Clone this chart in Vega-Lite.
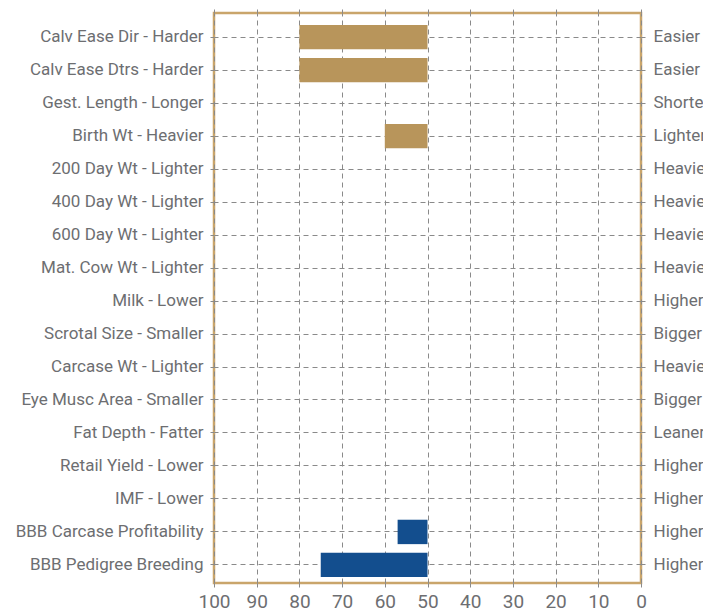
{
  "$schema": "https://vega.github.io/schema/vega-lite/v6.json",
  "autosize": "none",
  "padding": {"left": 214, "top": 13, "right": 62, "bottom": 28},
  "width": 427,
  "height": 570,
  "config": {
    "view": {"stroke": "#c9a56b", "strokeWidth": 2.5},
    "font": "Roboto",
    "axis": {
      "labelFont": "Roboto",
      "labelColor": "#6d6e71",
      "tickColor": "#8a8a8a",
      "gridColor": "#8a8a8a",
      "gridDash": [5, 4],
      "tickDash": [4, 4],
      "gridWidth": 1,
      "domain": false,
      "title": null
    }
  },
  "data": {
    "values": [
      {"trait": "Calv Ease Dir - Harder", "favour": "Easier", "value": 80, "group": "EBV"},
      {"trait": "Calv Ease Dtrs - Harder", "favour": "Easier", "value": 80, "group": "EBV"},
      {"trait": "Gest. Length - Longer", "favour": "Shorter", "value": null, "group": "EBV"},
      {"trait": "Birth Wt - Heavier", "favour": "Lighter", "value": 60, "group": "EBV"},
      {"trait": "200 Day Wt - Lighter", "favour": "Heavier", "value": null, "group": "EBV"},
      {"trait": "400 Day Wt - Lighter", "favour": "Heavier", "value": null, "group": "EBV"},
      {"trait": "600 Day Wt - Lighter", "favour": "Heavier", "value": null, "group": "EBV"},
      {"trait": "Mat. Cow Wt - Lighter", "favour": "Heavier", "value": null, "group": "EBV"},
      {"trait": "Milk - Lower", "favour": "Higher", "value": null, "group": "EBV"},
      {"trait": "Scrotal Size - Smaller", "favour": "Bigger", "value": null, "group": "EBV"},
      {"trait": "Carcase Wt - Lighter", "favour": "Heavier", "value": null, "group": "EBV"},
      {"trait": "Eye Musc Area - Smaller", "favour": "Bigger", "value": null, "group": "EBV"},
      {"trait": "Fat Depth - Fatter", "favour": "Leaner", "value": null, "group": "EBV"},
      {"trait": "Retail Yield - Lower", "favour": "Higher", "value": null, "group": "EBV"},
      {"trait": "IMF - Lower", "favour": "Higher", "value": null, "group": "EBV"},
      {"trait": "BBB Carcase Profitability", "favour": "Higher", "value": 57, "group": "Index"},
      {"trait": "BBB Pedigree Breeding", "favour": "Higher", "value": 75, "group": "Index"}
    ]
  },
  "transform": [
    {"calculate": "datum.trait + '|' + datum.favour", "as": "key"}
  ],
  "layer": [
    {
      "mark": {"type": "tick", "opacity": 0},
      "encoding": {
        "y": {
          "field": "key",
          "type": "nominal",
          "sort": null,
          "scale": {"paddingInner": 0.26, "paddingOuter": 0.27, "align": 0.67},
          "axis": {
            "orient": "right",
            "grid": false,
            "bandPosition": 0.5,
            "tickSize": 7,
            "labelPadding": 5,
            "labelFontSize": 17,
            "labelExpr": "split(datum.label, '|')[1]",
            "labelLimit": 300
          }
        },
        "x": {
          "datum": 50,
          "type": "quantitative",
          "scale": {"domain": [0, 100], "reverse": true, "nice": false},
          "axis": {
            "orient": "top",
            "values": [0, 10, 20, 30, 40, 50, 60, 70, 80, 90, 100],
            "labels": false,
            "grid": false,
            "tickSize": 6
          }
        }
      }
    },
    {
      "mark": {"type": "bar"},
      "encoding": {
        "y": {
          "field": "key",
          "type": "nominal",
          "sort": null,
          "axis": {
            "orient": "left",
            "grid": true,
            "bandPosition": 0.5,
            "tickSize": 7,
            "labelPadding": 4,
            "labelFontSize": 17,
            "labelExpr": "split(datum.label, '|')[0]",
            "labelLimit": 300
          }
        },
        "x": {
          "field": "value",
          "type": "quantitative",
          "axis": {
            "orient": "bottom",
            "values": [0, 10, 20, 30, 40, 50, 60, 70, 80, 90, 100],
            "grid": true,
            "tickSize": 7,
            "labelPadding": 2,
            "labelFontSize": 19,
            "labelOverlap": false,
            "labelFlush": false,
            "labelBound": false
          }
        },
        "x2": {"datum": 50},
        "color": {
          "field": "group",
          "type": "nominal",
          "scale": {"domain": ["EBV", "Index"], "range": ["#b8955b", "#134e8e"]},
          "legend": null
        }
      }
    }
  ],
  "resolve": {"axis": {"x": "independent", "y": "independent"}}
}
